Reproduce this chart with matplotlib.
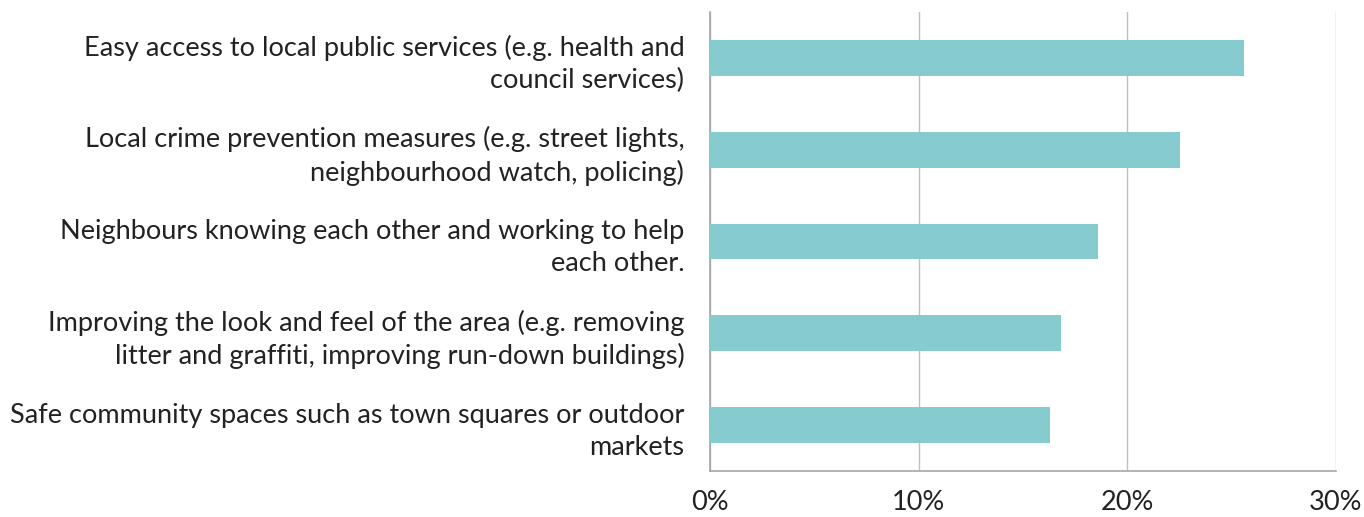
import matplotlib
matplotlib.use('Agg')
import matplotlib.pyplot as plt

# categories, top to bottom
labels = [
    "Easy access to local public services (e.g. health and\ncouncil services)",
    "Local crime prevention measures (e.g. street lights,\nneighbourhood watch, policing)",
    "Neighbours knowing each other and working to help\neach other.",
    "Improving the look and feel of the area (e.g. removing\nlitter and graffiti, improving run-down buildings)",
    "Safe community spaces such as town squares or outdoor\nmarkets",
]
values = [25.6, 22.5, 18.6, 16.8, 16.3]
xticks = [0, 10, 20, 30]

plt.rcParams['font.family'] = ['Lato', 'DejaVu Sans']

fig = plt.figure(figsize=(13.64, 5.17), dpi=100)
ax = fig.add_axes([710 / 1364, 1 - 471 / 517, 626 / 1364, 459 / 517])

ypos = list(range(len(labels)))
ax.barh(ypos, values, height=0.39, color='#86CCCF', zorder=3)

ax.set_xlim(0, 30)
ax.set_ylim(len(labels) - 0.5, -0.5)
ax.set_xticks(xticks)
ax.set_xticklabels([f"{t}%" for t in xticks], fontsize=19.5, color='#222222')
ax.set_yticks(ypos)
ax.set_yticklabels(labels, fontsize=19.5, color='#222222', linespacing=1.35)
# labels sit a little above bar centre in the reference
for t in ax.get_yticklabels():
    t.set_verticalalignment('center_baseline')

ax.grid(axis='x', color='#BFBFBF', linewidth=1, zorder=0)
for s in ['top', 'right']:
    ax.spines[s].set_visible(False)
for s in ['left', 'bottom']:
    ax.spines[s].set_color('#A6A6A6')
    ax.spines[s].set_linewidth(1.2)
ax.tick_params(axis='y', length=0, pad=18.5)
ax.tick_params(axis='x', length=0, pad=14)

plt.savefig('out.png', dpi=100)
plt.close()
